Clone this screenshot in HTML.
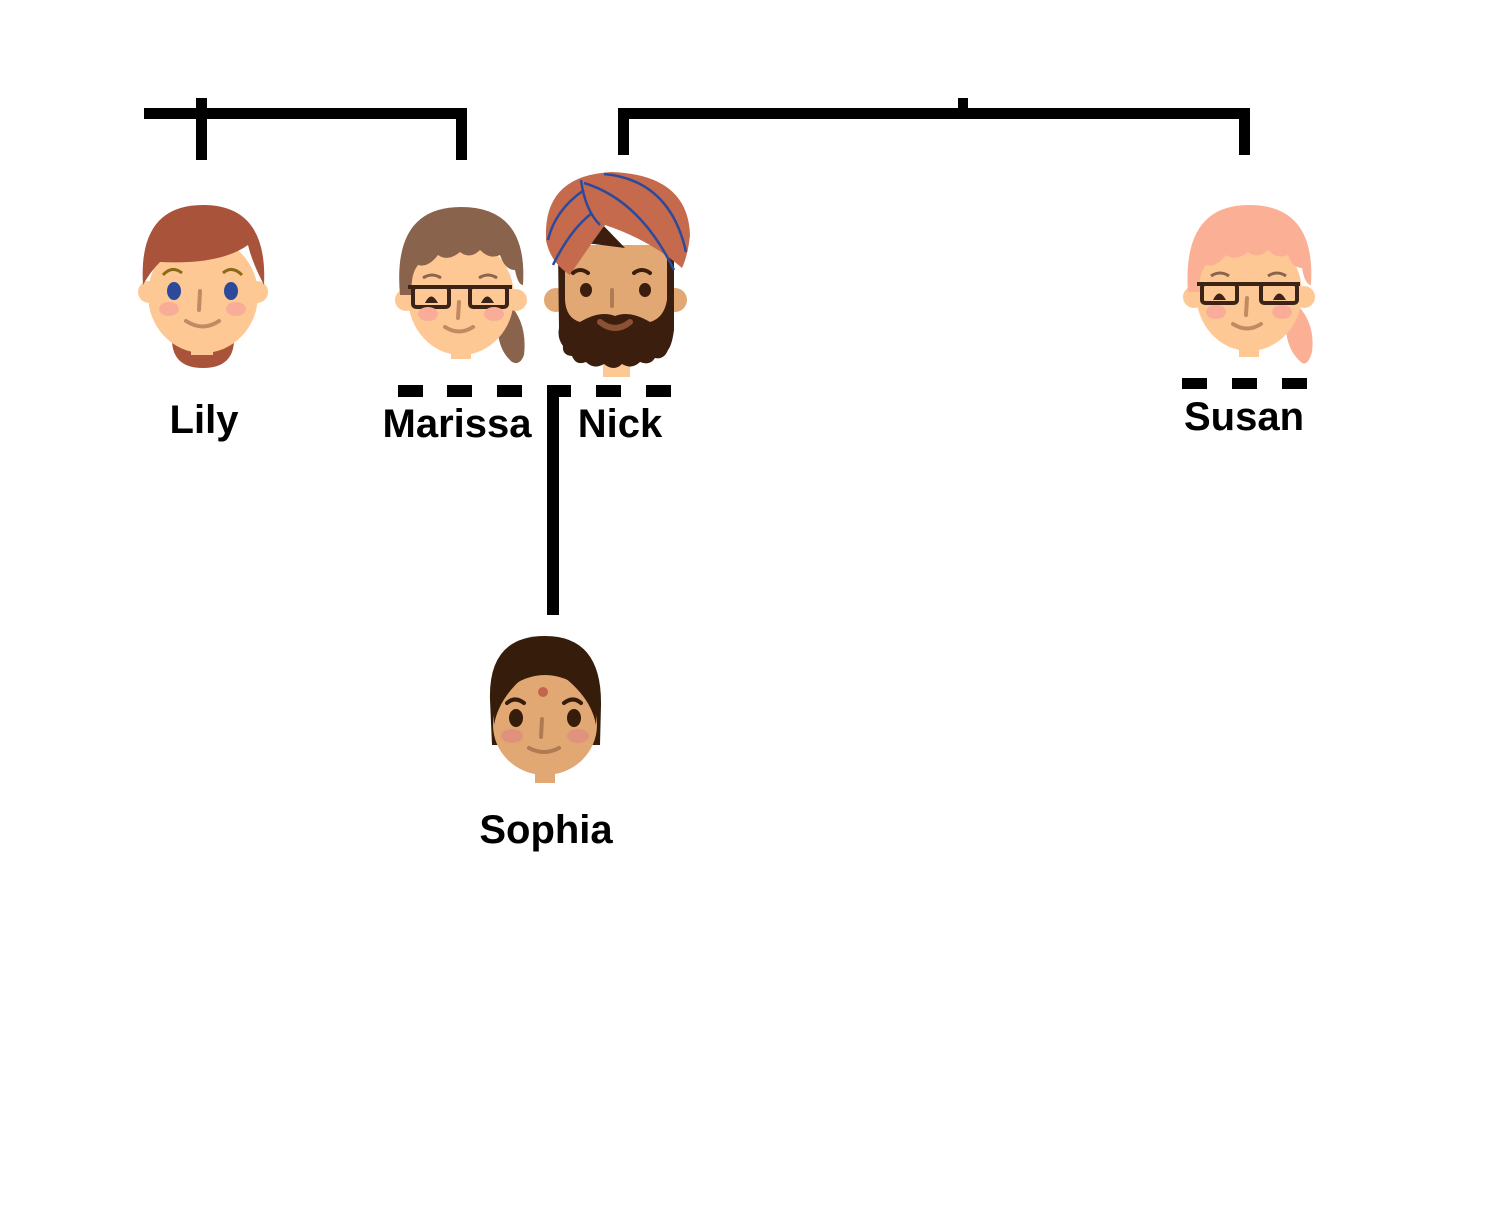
<!DOCTYPE html>
<html><head><style>
html,body{margin:0;padding:0;background:#fff;}
svg{display:block}
text{font-family:"Liberation Sans",Arial,sans-serif;font-weight:bold;font-size:40px;fill:#000;text-anchor:middle}
</style></head><body>
<svg width="1488" height="1216" viewBox="0 0 1488 1216" xmlns="http://www.w3.org/2000/svg">
<g fill="#000">
<rect x="144" y="108" width="323" height="11"/>
<rect x="196" y="98" width="11" height="62"/>
<rect x="456" y="108" width="11" height="52"/>
<rect x="618" y="108" width="632" height="11"/>
<rect x="618" y="108" width="11" height="47"/>
<rect x="1239" y="108" width="11" height="47"/>
<rect x="958" y="98" width="10" height="12"/>
<rect x="398" y="385" width="25" height="12"/>
<rect x="447" y="385" width="25" height="12"/>
<rect x="497" y="385" width="25" height="12"/>
<rect x="547" y="385" width="24" height="12"/>
<rect x="547" y="385" width="12" height="230"/>
<rect x="596" y="385" width="25" height="12"/>
<rect x="646" y="385" width="25" height="12"/>
<rect x="1182" y="378" width="25" height="11"/>
<rect x="1232" y="378" width="25" height="11"/>
<rect x="1282" y="378" width="25" height="11"/>
</g>

<!-- Lily -->
<g>
<path d="M172 335 Q170 368 203 368 Q236 368 234 335 Z" fill="#a9533a"/>
<rect x="191" y="335" width="22" height="20" fill="#fec895"/>
<circle cx="149" cy="292" r="11" fill="#fec895"/>
<circle cx="257" cy="292" r="11" fill="#fec895"/>
<ellipse cx="203" cy="295" rx="55" ry="58" fill="#fec895"/>
<path d="M143 285 Q138 205 203 205 Q268 205 264 285 Q252 262 248 245 Q220 265 160 262 Q150 272 143 285 Z" fill="#a9533a"/>
<path d="M163 275 Q172 265 182 273 M223 273 Q232 265 242 275" stroke="#8a6a17" stroke-width="3" fill="none"/>
<ellipse cx="174" cy="291" rx="7" ry="9" fill="#2d4a9a"/>
<ellipse cx="231" cy="291" rx="7" ry="9" fill="#2d4a9a"/>
<line x1="200" y1="291" x2="199" y2="310" stroke="#c08a63" stroke-width="4" stroke-linecap="round"/>
<ellipse cx="169" cy="309" rx="10" ry="7" fill="#f9ad98"/>
<ellipse cx="236" cy="309" rx="10" ry="7" fill="#f9ad98"/>
<path d="M186 321 Q203 332 219 321" stroke="#c08a63" stroke-width="4" fill="none" stroke-linecap="round"/>
</g>

<!-- Marissa -->
<g>
<path d="M505 300 Q528 320 524 355 Q520 366 512 362 Q492 345 500 305 Z" fill="#8a634c"/>
<rect x="451" y="345" width="20" height="14" fill="#fec895"/>
<circle cx="406" cy="300" r="11" fill="#fec895"/>
<circle cx="516" cy="300" r="11" fill="#fec895"/>
<ellipse cx="461" cy="297" rx="53" ry="58" fill="#fec895"/>
<path d="M400 295 Q392 207 461 207 Q528 207 523 285 Q518 285 515 270 Q505 270 500 255 Q490 260 480 250 Q470 260 460 252 Q448 262 438 255 Q428 268 418 265 Q410 275 412 295 Z" fill="#8a634c"/>
<path d="M423 278 Q432 272 441 278 M479 278 Q488 272 497 278" stroke="#8a634c" stroke-width="3" fill="none"/>
<g fill="none" stroke="#3b2417" stroke-width="4"><rect x="413" y="287" width="36" height="20" rx="3"/><rect x="470" y="287" width="37" height="20" rx="3"/><line x1="408" y1="287" x2="512" y2="287"/></g>
<path d="M425 303 Q431 290 438 303 Z M481 303 Q487 290 494 303 Z" fill="#3b2417"/>
<line x1="459" y1="302" x2="458" y2="318" stroke="#c08a63" stroke-width="4" stroke-linecap="round"/>
<ellipse cx="428" cy="314" rx="10" ry="7" fill="#f9ad98"/>
<ellipse cx="494" cy="314" rx="10" ry="7" fill="#f9ad98"/>
<path d="M445 327 Q459 336 473 327" stroke="#c08a63" stroke-width="4" fill="none" stroke-linecap="round"/>
</g>

<!-- Nick -->
<g>
<rect x="603" y="355" width="27" height="22" fill="#fec895"/>
<circle cx="556" cy="300" r="12" fill="#e1a874"/>
<circle cx="675" cy="300" r="12" fill="#e1a874"/>
<!-- beard base -->
<path d="M558 250 L674 250 L674 330 Q672 345 668 350 Q664 360 655 358 Q650 366 640 362 Q632 370 622 364 Q614 372 604 364 Q594 370 586 362 Q576 366 572 356 Q562 355 563 346 Q557 338 559 328 Z" fill="#3b1e0e"/>
<!-- skin upper face -->
<path d="M565 245 L667 245 L667 300 Q664 318 650 322 Q630 310 615 316 Q600 310 580 322 Q566 318 565 300 Z" fill="#e1a874"/>
<path d="M600 322 Q615 334 630 322" stroke="#8a5232" stroke-width="6" fill="none" stroke-linecap="round"/>
<path d="M578 242 L600 222 L625 248 Z" fill="#3b1e0e"/>
<path d="M546 230 Q548 175 612 172 Q688 175 690 235 Q688 255 682 268 Q650 240 605 225 Q590 245 570 275 Q550 262 546 240 Z" fill="#c56a4d"/>
<g stroke="#2d4a9a" stroke-width="2.5" fill="none">
<path d="M581 180 Q585 210 600 225"/>
<path d="M584 183 Q640 200 674 270"/>
<path d="M604 174 Q670 180 686 252"/>
<path d="M548 240 Q555 210 584 190"/>
<path d="M553 265 Q570 230 592 213"/>
</g>
<path d="M573 273 Q580 267 588 273 M634 273 Q642 267 650 273" stroke="#3b1e0e" stroke-width="4" fill="none" stroke-linecap="round"/>
<ellipse cx="586" cy="290" rx="6" ry="7" fill="#3b1e0e"/>
<ellipse cx="645" cy="290" rx="6" ry="7" fill="#3b1e0e"/>
<line x1="612" y1="290" x2="612" y2="306" stroke="#b07a53" stroke-width="4" stroke-linecap="round"/>
</g>

<!-- Susan -->
<g>
<path d="M1292 300 Q1316 320 1312 352 Q1308 366 1302 363 Q1280 345 1288 305 Z" fill="#fbb096"/>
<rect x="1239" y="340" width="20" height="17" fill="#fec895"/>
<circle cx="1194" cy="297" r="11" fill="#fec895"/>
<circle cx="1304" cy="297" r="11" fill="#fec895"/>
<ellipse cx="1249" cy="293" rx="53" ry="58" fill="#fec895"/>
<path d="M1188 292 Q1182 205 1249 205 Q1316 205 1311 285 Q1305 285 1302 268 Q1292 268 1288 255 Q1278 260 1268 250 Q1258 260 1248 252 Q1236 262 1226 255 Q1216 268 1206 265 Q1198 275 1200 292 Z" fill="#fbb096"/>
<path d="M1211 276 Q1220 270 1229 276 M1268 276 Q1277 270 1286 276" stroke="#8a634c" stroke-width="3" fill="none"/>
<g fill="none" stroke="#3b2417" stroke-width="4"><rect x="1202" y="284" width="35" height="19" rx="3"/><rect x="1261" y="284" width="36" height="19" rx="3"/><line x1="1197" y1="284" x2="1300" y2="284"/></g>
<path d="M1213 300 Q1219 287 1226 300 Z M1273 300 Q1279 287 1286 300 Z" fill="#3b2417"/>
<line x1="1247" y1="298" x2="1246" y2="315" stroke="#c08a63" stroke-width="4" stroke-linecap="round"/>
<ellipse cx="1216" cy="312" rx="10" ry="7" fill="#f9ad98"/>
<ellipse cx="1282" cy="312" rx="10" ry="7" fill="#f9ad98"/>
<path d="M1233 324 Q1247 333 1261 324" stroke="#c08a63" stroke-width="4" fill="none" stroke-linecap="round"/>
</g>

<!-- Sophia -->
<g>
<rect x="535" y="760" width="20" height="23" fill="#e1a874"/>
<path d="M490 700 Q488 636 545 636 Q602 636 601 705 L600 745 L590 745 L500 745 L492 745 Z" fill="#361c0b"/>
<ellipse cx="545" cy="725" rx="52" ry="50" fill="#e1a874"/>
<path d="M494 725 Q492 660 545 660 Q598 660 596 725 Q590 690 543 663 Q500 690 494 725 Z" fill="#361c0b"/>
<circle cx="543" cy="692" r="5" fill="#c5644d"/>
<path d="M507 703 Q515 696 524 703 M564 703 Q573 696 581 703" stroke="#361c0b" stroke-width="4" fill="none" stroke-linecap="round"/>
<ellipse cx="516" cy="718" rx="7" ry="9" fill="#361c0b"/>
<ellipse cx="574" cy="718" rx="7" ry="9" fill="#361c0b"/>
<line x1="542" y1="719" x2="541" y2="737" stroke="#b07a53" stroke-width="4" stroke-linecap="round"/>
<ellipse cx="512" cy="736" rx="11" ry="7" fill="#e0927c"/>
<ellipse cx="578" cy="736" rx="11" ry="7" fill="#e0927c"/>
<path d="M529 748 Q544 756 559 748" stroke="#b07a53" stroke-width="4" fill="none" stroke-linecap="round"/>
</g>

<text x="204" y="433">Lily</text>
<text x="457" y="437">Marissa</text>
<text x="620" y="437">Nick</text>
<text x="1244" y="430">Susan</text>
<text x="546" y="843">Sophia</text>
</svg>
</body></html>
